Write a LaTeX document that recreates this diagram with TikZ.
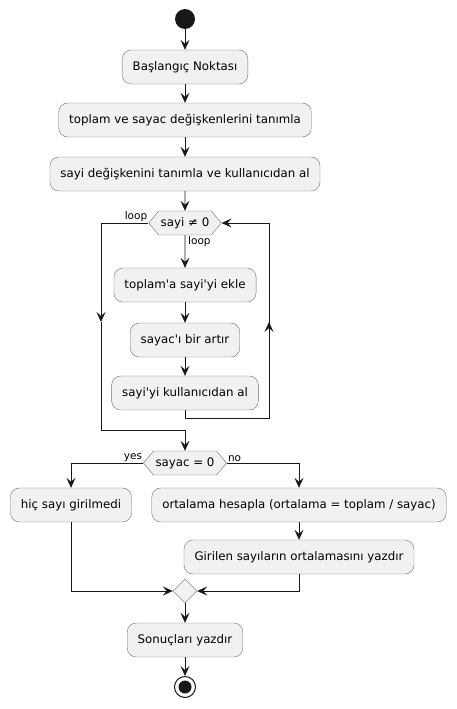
\documentclass[tikz,border=0pt]{standalone}
\usepackage{fontspec}
\setmainfont{DejaVu Sans}
\usepackage{tikz}
\usetikzlibrary{positioning}
\usetikzlibrary{shapes,shapes.geometric,shapes.symbols,calc,arrows.meta}

\definecolor{actfill}{HTML}{F1F1F1}
\definecolor{actline}{HTML}{181818}
\definecolor{actedge}{HTML}{6E6E6E}
\newcommand{\q}{\textquotesingle}

\begin{document}
\begin{tikzpicture}[x=1pt,y=-1pt,>={Stealth[length=10pt,width=9pt,inset=4pt]},
  every node/.style={font=\fontsize{11.8}{14}\selectfont},
  act/.style={draw=actedge,fill=actfill,rounded corners=9pt,minimum height=34pt,inner xsep=10.5pt},
  cond/.style={draw=actedge,fill=actfill,signal,signal to=east and west,signal pointer angle=100,
    minimum height=24pt,inner xsep=2pt,inner ysep=2pt},
  merge/.style={draw=actedge,fill=actfill,diamond,minimum size=24pt,inner sep=0pt},
  start/.style={circle,fill=actline,minimum size=20pt,inner sep=0pt},
  stop/.style={circle,draw=actline,line width=1pt,fill=white,minimum size=21pt,inner sep=0pt},
  tag/.style={font=\fontsize{10.5}{12}\selectfont,inner sep=1pt},
  flow/.style={->,draw=actline,line width=0.8pt},
  line/.style={draw=actline,line width=0.8pt}]
  \useasboundingbox (0,0) rectangle (457,709);

  \node[start] (start) at (185,19) {};
  \node[act] (init) at (185,67) {Başlangıç Noktası};
  \node[act] (vars) at (185,120) {toplam ve sayac değişkenlerini tanımla};
  \node[act] (read) at (185,174) {sayi değişkenini tanımla ve kullanıcıdan al};
  \node[cond] (loop) at (185,223) {sayi ≠ 0};
  \node[act] (add) at (185,285) {toplam\q a sayi\q yi ekle};
  \node[act] (inc) at (185,340) {sayac\q ı bir artır};
  \node[act] (next) at (185,393) {sayi\q yi kullanıcıdan al};
  \node[cond] (test) at (185,463) {sayac = 0};
  \node[act] (none) at (71,505) {hiç sayı girilmedi};
  \node[act] (avg) at (299,505) {ortalama hesapla (ortalama = toplam / sayac)};
  \node[act] (show) at (299,557) {Girilen sayıların ortalamasını yazdır};
  \node[merge] (join) at (185,591) {};
  \node[act] (result) at (185,640) {Sonuçları yazdır};
  \node[stop] (stop) at (185,687) {};
  \fill[actline] (stop.center) circle (6.5pt);

  % labels
  \node[tag,anchor=south east] (lexit) at (loop.west) {loop};
  \node[tag,anchor=north west] (lbody) at ($(loop.south)+(2,0)$) {loop};
  \node[tag,anchor=south east] (lyes) at (test.west) {yes};
  \node[tag,anchor=south west] (lno) at (test.east) {no};

  % loop corners
  \coordinate (la) at (101,223);
  \coordinate (lm) at (101,322);
  \coordinate (lb) at (101,430);
  \coordinate (ra) at (269,418);
  \coordinate (rm) at (269,322);

  \draw[flow] (start) -- (init);
  \draw[flow] (init) -- (vars);
  \draw[flow] (vars) -- (read);
  \draw[flow] (read) -- (loop);
  \draw[flow] (loop) -- (add);
  \draw[flow] (add) -- (inc);
  \draw[flow] (inc) -- (next);
  \draw[line] (next.south) |- (ra) -- (rm);
  \draw[flow] (ra) -- (rm);
  \draw[flow] (rm) |- (loop.east);
  \draw[flow] (loop.west) -- (la) -- (lm);
  \draw[line] (lm) -- (lb);
  \draw[flow] (lb) -| (test.north);
  \draw[flow] (test.west) -| (none.north);
  \draw[flow] (test.east) -| (avg.north);
  \draw[flow] (avg) -- (show);
  \draw[flow] (none.south) |- (join.west);
  \draw[flow] (show.south) |- (join.east);
  \draw[flow] (join) -- (result);
  \draw[flow] (result) -- (stop);
\end{tikzpicture}
\end{document}
